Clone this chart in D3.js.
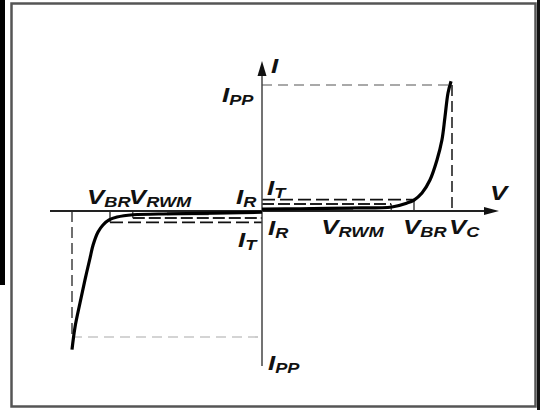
<!DOCTYPE html>
<html>
<head>
<meta charset="utf-8">
<script src="https://cdn.jsdelivr.net/npm/d3@7"></script>
<style>
    body { margin: 0; background: #fff; }
    svg { display: block; }
    .lbl { font-family: "Liberation Sans", Arial, sans-serif; font-style: italic; font-weight: bold; fill: #111; }
</style>
</head>
<body>
<svg id="chart"></svg>
<script>
// Curve samples (V and I both relative to VC / IPP)
const voltPos = [0, 0.2, 0.46, 0.684, 0.763, 0.8, 0.842, 0.884, 0.921, 0.947, 0.963, 0.979, 0.995];
const currPos = [0.015, 0.018, 0.024, 0.032, 0.063, 0.087, 0.143, 0.246, 0.405, 0.563, 0.746, 0.937, 1.03];
const voltNeg = [0, -0.468, -0.679, -0.763, -0.805, -0.837, -0.863, -0.889, -0.905, -0.932, -0.958, -0.984, -1.0];
const currNeg = [-0.01, -0.022, -0.03, -0.048, -0.071, -0.111, -0.167, -0.27, -0.373, -0.548, -0.73, -0.92, -1.1];

// Characteristic levels
const vLevels = { VRWM: 0.68, VBR: 0.8, VC: 1.0 };
const iLevels = { IR: 0.055, IT: 0.09, IPP: 1.0 };

const width = 540;
const height = 410;

const svg = d3.select("#chart").attr("width", width).attr("height", height);

// scales: origin sits at (262, 211)
const x = d3.scaleLinear().domain([-1, 1]).range([72, 452]);
const y = d3.scaleLinear().domain([-1, 1]).range([337, 85]);

// frame + scan artifacts on the edges
svg.append("rect").attr("x", 0).attr("y", 0).attr("width", 5).attr("height", 285).attr("fill", "#000");
svg.append("rect")
    .attr("x", 11.5).attr("y", 3.5).attr("width", 524).attr("height", 403)
    .attr("fill", "none").attr("stroke", "#555").attr("stroke-width", 2.5);
svg.append("rect").attr("x", 537).attr("y", 0).attr("width", 3).attr("height", height).attr("fill", "#111");

const g = svg.append("g");

function dashed(x1, y1, x2, y2, color, w, dash) {
    g.append("line")
        .attr("x1", x1).attr("y1", y1).attr("x2", x2).attr("y2", y2)
        .attr("stroke", color).attr("stroke-width", w).attr("stroke-dasharray", dash);
}

// IPP guides
dashed(x(0), y(iLevels.IPP), x(vLevels.VC), y(iLevels.IPP), "#555", 1.2, "10,6");
dashed(x(vLevels.VC), y(iLevels.IPP), x(vLevels.VC), y(0), "#222", 1.6, "11,5");
dashed(x(-vLevels.VC), y(-iLevels.IPP), x(0), y(-iLevels.IPP), "#aaa", 1.2, "10,6");
dashed(x(-vLevels.VC), y(0), x(-vLevels.VC), y(-iLevels.IPP), "#333", 1.4, "11,5");

// IT guides
dashed(x(0), y(iLevels.IT), x(vLevels.VBR), y(iLevels.IT), "#111", 1.8, "13,5");
dashed(x(vLevels.VBR), y(iLevels.IT), x(vLevels.VBR), y(0), "#222", 1.3, "none");
dashed(x(-vLevels.VBR), y(-iLevels.IT), x(0), y(-iLevels.IT), "#111", 1.8, "13,5");
dashed(x(-vLevels.VBR), y(-iLevels.IT), x(-vLevels.VBR), y(0), "#222", 1.3, "none");

// IR guides
dashed(x(0), y(iLevels.IR), x(vLevels.VRWM), y(iLevels.IR), "#222", 2, "12,4");
dashed(x(vLevels.VRWM), y(iLevels.IR), x(vLevels.VRWM), y(0), "#333", 1.2, "none");
dashed(x(-vLevels.VRWM), y(-iLevels.IR), x(0), y(-iLevels.IR), "#222", 2, "12,4");
dashed(x(-vLevels.VRWM), y(-iLevels.IR), x(-vLevels.VRWM), y(0), "#333", 1.2, "none");

// grey band near the axis (scanned dash fill)
g.append("rect").attr("x", x(0.24)).attr("y", y(0.03)).attr("width", x(0.48) - x(0.24)).attr("height", 4).attr("fill", "#666");
g.append("rect").attr("x", x(-0.5)).attr("y", y(-0.01)).attr("width", x(-0.28) - x(-0.5)).attr("height", 3).attr("fill", "#666");

// axes
g.append("line")
    .attr("x1", 50).attr("y1", y(0)).attr("x2", 492).attr("y2", y(0))
    .attr("stroke", "#222").attr("stroke-width", 2);
g.append("path")
    .attr("d", `M499,${y(0)} L484,${y(0) - 4} L484,${y(0) + 4} Z`)
    .attr("fill", "#111");
g.append("line")
    .attr("x1", x(0)).attr("y1", 70).attr("x2", x(0)).attr("y2", 366)
    .attr("stroke", "#444").attr("stroke-width", 1.5);
g.append("path")
    .attr("d", `M${x(0)},61 L${x(0) - 4.5},76 L${x(0) + 4.5},76 Z`)
    .attr("fill", "#111");

// characteristic curve
const line = d3.line().x((d) => x(d[0])).y((d) => y(d[1])).curve(d3.curveCatmullRom.alpha(0.5));
const posPts = voltPos.map((v, i) => [v, currPos[i]]);
const negPts = voltNeg.map((v, i) => [v, currNeg[i]]);
[posPts, negPts].forEach((pts) => {
    g.append("path")
        .attr("d", line(pts))
        .attr("fill", "none")
        .attr("stroke", "#000")
        .attr("stroke-width", 3.2)
        .attr("stroke-linejoin", "round");
});

// labels: [main, subscript, x, y, anchor]
function label(main, sub, lx, ly, anchor) {
    const t = g.append("text")
        .attr("class", "lbl")
        .attr("transform", `translate(${lx},${ly}) scale(1.3,1)`)
        .attr("text-anchor", anchor || "start")
        .attr("font-size", 20);
    t.append("tspan").text(main);
    if (sub) t.append("tspan").attr("font-size", 14).attr("dy", 3).text(sub);
}

label("I", "", x(0) + 9, 73);
label("I", "PP", x(0) - 40, 102);
label("V", "", 490, 200);
label("I", "T", x(0) + 5, 195);
label("I", "R", x(0) - 26, 204);
label("I", "R", x(0) + 6, 235);
label("I", "T", x(0) - 24, 247);
label("V", "RWM", x(vLevels.VRWM) - 70, 234);
label("V", "BR", x(vLevels.VBR) - 11, 234);
label("V", "C", x(vLevels.VC) - 3, 234);
label("V", "BR", x(-vLevels.VBR) - 23, 204);
label("V", "RWM", x(-vLevels.VRWM) - 4, 204);
label("I", "PP", x(0) + 6, 370);
</script>
</body>
</html>
